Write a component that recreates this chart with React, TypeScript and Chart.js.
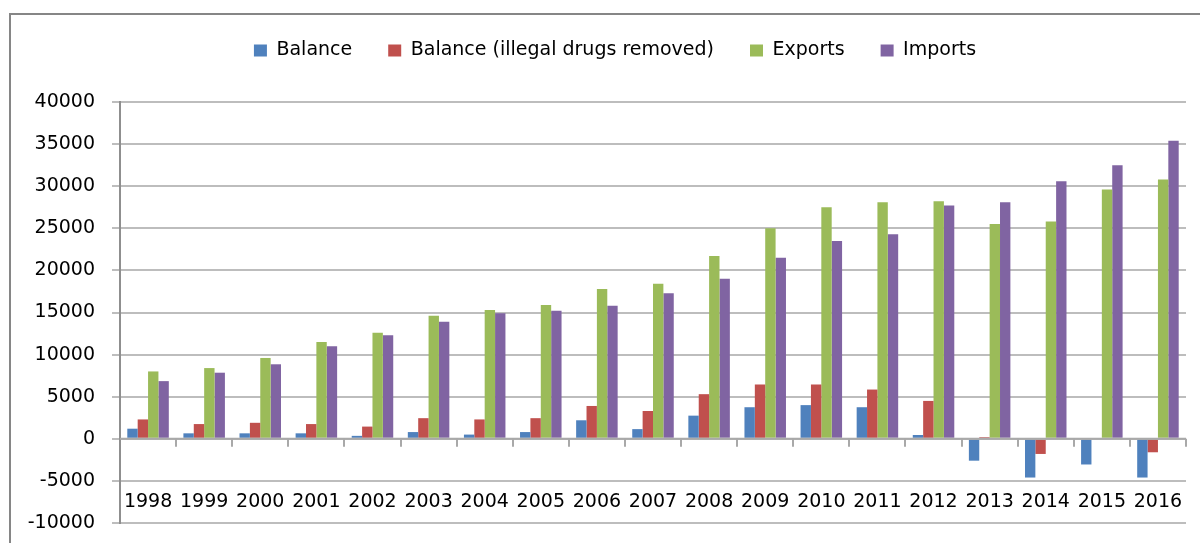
import React, { useEffect, useRef } from 'react';
import { Chart, registerables } from 'chart.js';

Chart.register(...registerables);

const years = ['1998', '1999', '2000', '2001', '2002', '2003', '2004', '2005', '2006', '2007', '2008', '2009', '2010', '2011', '2012', '2013', '2014', '2015', '2016'];
const balance = [1200, 650, 650, 650, 350, 800, 500, 800, 2200, 1150, 2750, 3750, 4000, 3750, 450, -2600, -4600, -3050, -4600];
const balanceNoDrugs = [2300, 1750, 1900, 1750, 1450, 2450, 2300, 2450, 3900, 3300, 5300, 6450, 6450, 5850, 4500, 200, -1800, 0, -1600];
const exportsData = [8000, 8400, 9600, 11500, 12600, 14600, 15300, 15900, 17800, 18400, 21700, 25000, 27500, 28100, 28200, 25500, 25800, 29600, 30800];
const importsData = [6850, 7850, 8850, 11000, 12300, 13900, 14900, 15200, 15800, 17300, 19000, 21500, 23500, 24300, 27700, 28100, 30600, 32500, 35400];

const seriesNames = ['Balance', 'Balance (illegal drugs removed)', 'Exports', 'Imports'];
const seriesColors = ['#4F81BD', '#C0504D', '#9BBB59', '#8064A2'];
const yMin = -10000;
const yMax = 40000;
const yStep = 5000;
const xLabelValue = -7500;

const FONT = 'DejaVu Sans';

const legendSpacing = {
  id: 'legendSpacing',
  beforeInit(chart: any) {
    const legend = chart.legend;
    if (!legend) return;
    const orig = legend.fit;
    legend.fit = function () {
      orig.call(this);
      this.height += 32;
    };
  },
  afterLayout(chart: any) {
    const legend = chart.legend;
    if (!legend) return;
    legend.left += 10;
    legend.right += 10;
  },
};

const zeroAxis = {
  id: 'zeroAxis',
  afterDatasetsDraw(chart: any) {
    const { ctx, chartArea } = chart;
    const x = chart.scales.x;
    const y = chart.scales.y;
    const y0 = y.getPixelForValue(0);
    const step = x.getPixelForValue(1) - x.getPixelForValue(0);
    ctx.save();
    ctx.strokeStyle = '#a9a9a9';
    ctx.lineWidth = 2;
    ctx.beginPath();
    ctx.moveTo(chartArea.left, y0);
    ctx.lineTo(chartArea.right, y0);
    ctx.stroke();
    ctx.beginPath();
    for (let i = 1; i <= years.length; i++) {
      const xb = Math.round(x.getPixelForValue(i) - step / 2);
      ctx.moveTo(xb, y0);
      ctx.lineTo(xb, y0 + 8);
    }
    ctx.stroke();
    ctx.fillStyle = '#000';
    ctx.font = `19px "${FONT}"`;
    ctx.textAlign = 'center';
    ctx.textBaseline = 'middle';
    const yl = y.getPixelForValue(xLabelValue);
    years.forEach((lab, i) => {
      ctx.fillText(lab, x.getPixelForValue(i), yl);
    });
    ctx.restore();
  },
};

export default function App() {
  const ref = useRef<HTMLCanvasElement>(null);
  useEffect(() => {
    if (!ref.current) return;
    const data = [balance, balanceNoDrugs, exportsData, importsData];
    const chart = new Chart(ref.current, {
      type: 'bar',
      data: {
        labels: years,
        datasets: data.map((d, i) => ({
          label: seriesNames[i],
          data: d,
          backgroundColor: seriesColors[i],
          borderWidth: 0,
          barPercentage: 1,
          categoryPercentage: 0.74,
        })),
      },
      options: {
        responsive: false,
        animation: false,
        devicePixelRatio: 1,
        layout: { padding: { left: 24, right: 14, top: 5, bottom: 20 } },
        plugins: {
          legend: {
            position: 'top',
            labels: {
              boxWidth: 13,
              boxHeight: 12,
              padding: 36,
              color: '#000',
              font: { family: FONT, size: 19 },
            },
          },
          tooltip: { enabled: false },
        },
        scales: {
          x: { display: false },
          y: {
            min: yMin,
            max: yMax,
            ticks: {
              stepSize: yStep,
              padding: 17,
              color: '#000',
              font: { family: FONT, size: 19 },
              callback: (v: any) => String(v),
            },
            grid: { color: '#bdbdbd', lineWidth: 2, tickLength: 8, drawTicks: true },
            border: { display: true, color: '#8f8f8f', width: 2 },
            afterFit: (s: any) => {
              s.width = 96;
              s.paddingTop = 0;
              s.paddingBottom = 0;
            },
          },
        },
      },
      plugins: [legendSpacing, zeroAxis],
    } as any);
    return () => chart.destroy();
  }, []);
  return (
    <div style={{ position: 'fixed', left: 0, top: 0, width: 1200, height: 543, overflow: 'hidden', background: '#fff' }}>
      <div style={{ position: 'absolute', left: 9, top: 13, width: 1400, height: 800, border: '2px solid #868686', boxSizing: 'border-box' }} />
      <canvas ref={ref} width={1200} height={543} style={{ position: 'absolute', left: 0, top: 0 }} />
    </div>
  );
}
